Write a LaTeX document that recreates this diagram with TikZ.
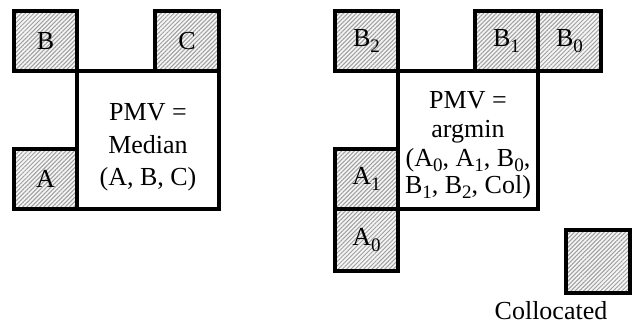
\documentclass[tikz,border=0pt]{standalone}
\usepackage{fontspec}
\setmainfont{Liberation Serif}
\usetikzlibrary{patterns.meta}

% lowered, smaller index digit
\newcommand{\idx}[1]{\raisebox{-0.45ex}{\fontsize{9.5}{10}\selectfont #1}}

\tikzset{
  cell/.style={draw=black, line width=2pt, inner sep=0pt, minimum width=31.5pt,
    minimum height=30pt, preaction={fill=gray!8},
    pattern={Lines[angle=45,distance=1.5pt,line width=0.5pt]}, pattern color=gray!75,
    font=\fontsize{13}{15}\selectfont},
  bigbox/.style={draw=black, line width=2pt, fill=white, inner sep=0pt},
  txt/.style={anchor=base, inner sep=0pt, font=\fontsize{13}{15}\selectfont},
}

\begin{document}
\begin{tikzpicture}[x=0.5pt, y=-0.5pt]
  \useasboundingbox (0,0) rectangle (633,323);

  % median predictor: three neighbours around the current block
  \node[bigbox, minimum width=71pt, minimum height=69pt] (medbox) at (148,140) {};
  \node[cell] (b) at (45.5,41) {B};
  \node[cell, minimum width=32pt] (c) at (187,41) {C};
  \node[cell] (a) at (45.5,179) {A};
  \node[txt] (m1) at (148,120) {PMV =};
  \node[txt] (m2) at (148,153) {Median};
  \node[txt] (m3) at (148,185) {(A, B, C)};

  % argmin predictor: five spatial neighbours plus the collocated block
  \node[bigbox, minimum width=70pt, minimum height=69pt] (argbox) at (468,140) {};
  \node[cell] (b2) at (366.5,41) {B\idx{2}};
  \node[cell] (b1) at (506.5,41) {B\idx{1}};
  \node[cell] (b0) at (569.5,41) {B\idx{0}};
  \node[cell] (a1) at (366.5,179) {A\idx{1}};
  \node[cell, minimum height=31pt] (a0) at (366.5,240) {A\idx{0}};
  \node[txt] (g1) at (468,108) {PMV =};
  \node[txt] (g2) at (468,137) {argmin};
  \node[txt] (g3) at (468,166) {(A\idx{0}, A\idx{1}, B\idx{0},};
  \node[txt] (g4) at (468,193) {B\idx{1}, B\idx{2}, Col)};

  \node[cell, minimum width=32pt, minimum height=31.5pt] (col) at (598,261.5) {};
  \node[txt] (collbl) at (551,319) {Collocated};
\end{tikzpicture}
\end{document}
